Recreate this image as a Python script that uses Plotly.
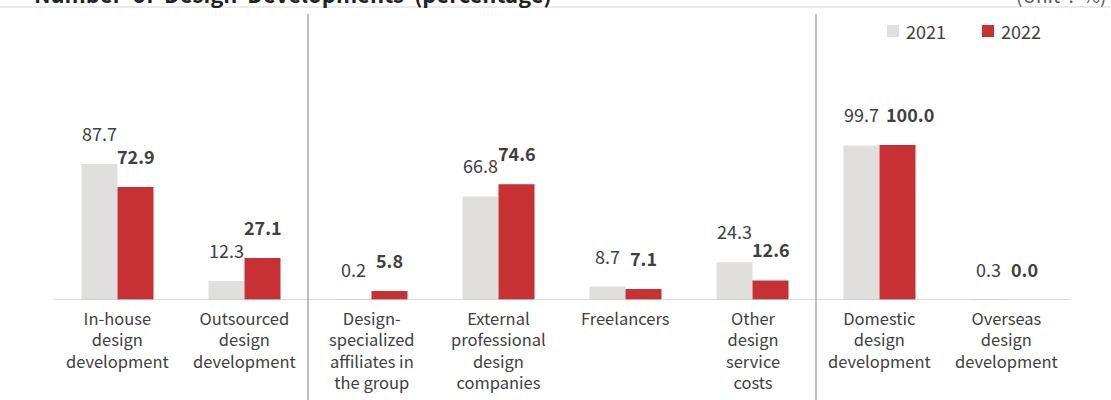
import plotly.graph_objects as go

# Category labels (multi-line) and values by year
categories = [
    "In-house<br>design<br>development",
    "Outsourced<br>design<br>development",
    "Design-<br>specialized<br>affiliates in<br>the group",
    "External<br>professional<br>design<br>companies",
    "Freelancers",
    "Other<br>design<br>service<br>costs",
    "Domestic<br>design<br>development",
    "Overseas<br>design<br>development",
]
values_2021 = [87.7, 12.3, 0.2, 66.8, 8.7, 24.3, 99.7, 0.3]
values_2022 = [72.9, 27.1, 5.8, 74.6, 7.1, 12.6, 100.0, 0.0]
series_names = ["2021", "2022"]

GRAY = "#e0dfde"
RED = "#c83133"
TEXT = "#404040"
FONT = "Noto Sans CJK KR"
NBSP = "\u00a0"

W, H = 1111, 400
M_L, M_R, M_T, M_B = 54, 41, 14, 100
PLOT_W = W - M_L - M_R
PLOT_H = H - M_T - M_B
PX_PER_UNIT = 1.55
Y_TOP = PLOT_H / PX_PER_UNIT

x_idx = list(range(len(categories)))
BAR_PX = 36


def px_x(px):
    return (px - M_L) / PLOT_W


def px_y(py):
    return 1 - (py - M_T) / PLOT_H


fig = go.Figure()
fig.add_trace(go.Bar(x=x_idx, y=values_2021, name=series_names[0],
                     marker=dict(color=GRAY, line=dict(width=0))))
fig.add_trace(go.Bar(x=x_idx, y=values_2022, name=series_names[1],
                     marker=dict(color=RED, line=dict(width=0))))

# value labels above each bar
nudge_2022 = {6: 12}
for i, (a, b) in enumerate(zip(values_2021, values_2022)):
    fig.add_annotation(x=i, y=a, text=f"{a:.1f}", showarrow=False,
                       xshift=-BAR_PX / 2, yshift=16, yanchor="bottom",
                       font=dict(family=FONT, size=18, color=TEXT))
    fig.add_annotation(x=i, y=b, text=f"<b>{b:.1f}</b>", showarrow=False,
                       xshift=BAR_PX / 2 + nudge_2022.get(i, 0), yshift=16,
                       yanchor="bottom",
                       font=dict(family=FONT, size=18, color=TEXT))

# category labels under the baseline
for i, c in enumerate(categories):
    fig.add_annotation(x=i, y=0, yref="y", text=c, showarrow=False,
                       yanchor="top", yshift=-4, align="center",
                       font=dict(family=FONT, size=16.5, color=TEXT))

shapes = []
# baseline
shapes.append(dict(type="line", xref="paper", yref="y", x0=0, x1=1, y0=0, y1=0,
                   line=dict(color="#cccccc", width=1.5)))
# group separators
for xs in (1.5, 5.5):
    shapes.append(dict(type="line", xref="x", yref="paper", x0=xs, x1=xs,
                       y0=px_y(H + 2), y1=1,
                       line=dict(color="#a8a8a8", width=1.5)))
# thin rule under the title
shapes.append(dict(type="line", xref="paper", yref="paper",
                   x0=px_x(0), x1=px_x(W), y0=px_y(7), y1=px_y(7),
                   line=dict(color="#e4e4e4", width=1.5)))

# legend drawn as swatches + labels
legend_items = [(series_names[0], GRAY, 887), (series_names[1], RED, 982)]
for name, color, left in legend_items:
    shapes.append(dict(type="rect", xref="paper", yref="paper",
                       x0=px_x(left), x1=px_x(left + 12),
                       y0=px_y(37), y1=px_y(25),
                       fillcolor=color, line=dict(width=0)))
    fig.add_annotation(xref="paper", yref="paper", x=px_x(left + 17), y=px_y(31),
                       xanchor="left", yanchor="middle", text=name, showarrow=False,
                       font=dict(family=FONT, size=18, color=TEXT))

# title and unit, sitting on the top edge
title_text = (NBSP + " ").join(["Number", "of", "Design", "Developments", "(percentage)"])
fig.add_annotation(xref="paper", yref="paper", x=px_x(32), y=px_y(11),
                   xanchor="left", yanchor="bottom",
                   text=f"<b>{title_text}</b>",
                   showarrow=False, font=dict(family=FONT, size=22, color="#222222"))
unit_text = (NBSP + " ").join(["(Unit", ":", "%)"])
fig.add_annotation(xref="paper", yref="paper", x=px_x(1108), y=px_y(10),
                   xanchor="right", yanchor="bottom",
                   text=unit_text, showarrow=False,
                   font=dict(family=FONT, size=19, color="#555555"))

fig.update_layout(
    width=W, height=H,
    margin=dict(l=M_L, r=M_R, t=M_T, b=M_B, pad=0),
    paper_bgcolor="white", plot_bgcolor="white",
    barmode="group", bargap=0.433, bargroupgap=0,
    shapes=shapes,
    showlegend=False,
    xaxis=dict(range=[-0.5, len(categories) - 0.5], showticklabels=False,
               showgrid=False, zeroline=False, showline=False, ticks=""),
    yaxis=dict(range=[0, Y_TOP], visible=False, showgrid=False, zeroline=False),
)

fig.write_html("out.html")
